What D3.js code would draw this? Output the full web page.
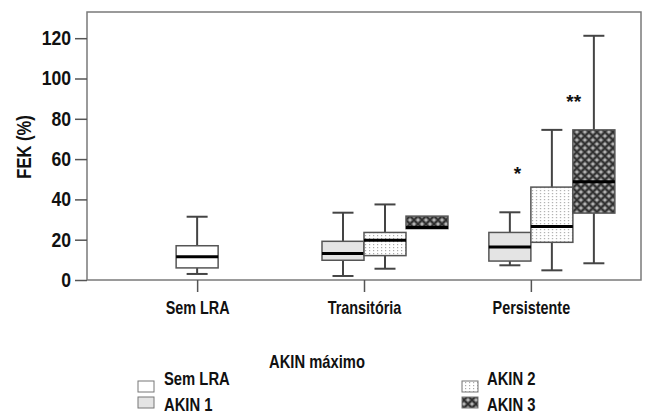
<!DOCTYPE html>
<html>
<head>
<meta charset="utf-8">
<script src="https://cdn.jsdelivr.net/npm/d3@7"></script>
<style>
  body { margin:0; background:#fff; }
  svg text { font-family:'Liberation Sans',Arial,sans-serif; font-weight:bold; fill:#111; }
</style>
</head>
<body>
<div id="canvas"></div>
<script>
// values
var categories = ['Sem LRA','Transitória','Persistente'];
var groups = ['Sem LRA','AKIN 1','AKIN 2','AKIN 3'];
var boxCategory = ['Sem LRA','Transitória','Transitória','Transitória','Persistente','Persistente','Persistente'];
var boxGroup = ['Sem LRA','AKIN 1','AKIN 2','AKIN 3','AKIN 1','AKIN 2','AKIN 3'];
var whiskerMin = [3.0, 2.0, 5.6, 25.5, 7.3, 4.8, 8.3];
var q1 = [6.0, 9.8, 12.1, 25.5, 9.4, 18.7, 33.2];
var median = [11.6, 13.2, 19.7, 26.0, 16.4, 26.6, 48.8];
var q3 = [17.0, 19.2, 23.6, 31.7, 23.6, 46.1, 74.5];
var whiskerMax = [31.4, 33.4, 37.5, 31.7, 33.6, 74.5, 121.2];
var yTicks = [0,20,40,60,80,100,120];
var annotText = ['*','**'];
var annotGroup = ['AKIN 1','AKIN 2'];
var annotValue = [56, 92];

var W = 645, H = 416;
var m = {t:12, r:4, b:136, l:87};
var w = W - m.l - m.r, h = H - m.t - m.b;

var svg = d3.select('#canvas').append('svg')
    .attr('width', W).attr('height', H);

// narrow look: squeeze text horizontally
function condense(sel, k){
    sel.each(function(){
        var t = d3.select(this);
        var x = +t.attr('x') || 0;
        var tr = t.attr('transform') || '';
        t.attr('x', x/k).attr('transform', tr + ' scale(' + k + ',1)');
    });
}

// patterns for AKIN 2 and AKIN 3
var defs = svg.append('defs');
var dots = defs.append('pattern').attr('id','dots')
    .attr('patternUnits','userSpaceOnUse').attr('width',4).attr('height',3);
dots.append('rect').attr('width',4).attr('height',3).attr('fill','#fff');
dots.append('rect').attr('x',1).attr('y',1).attr('width',1.2).attr('height',1.2).attr('fill','#aaa');

var cross = defs.append('pattern').attr('id','cross')
    .attr('patternUnits','userSpaceOnUse').attr('width',8).attr('height',8);
cross.append('rect').attr('width',8).attr('height',8).attr('fill','#7e7e7e');
cross.append('path').attr('d','M0,0L8,8M8,0L0,8').attr('stroke','#2e2e2e').attr('stroke-width',1.6);
[[4,0],[0,4],[8,4],[4,8]].forEach(function(p){
    cross.append('circle').attr('cx',p[0]).attr('cy',p[1]).attr('r',1.1).attr('fill','#c0c0c0');
});

var fills = {'Sem LRA':'#fff','AKIN 1':'#e4e4e4','AKIN 2':'url(#dots)','AKIN 3':'url(#cross)'};

var plot = svg.append('g').attr('transform','translate('+m.l+','+m.t+')');

var scaleX = d3.scalePoint().domain(categories).range([0,w]).padding(0.66);
var slot = 42;
var scaleG = d3.scaleBand().domain(groups).range([-2*slot, 2*slot]);
var scaleY = d3.scaleLinear().domain([0,133]).range([h,0]);

// frame
plot.append('rect').attr('width',w).attr('height',h)
    .attr('fill','none').attr('stroke','#7a7a7a').attr('stroke-width',1.5);

// axes
var axisY = d3.axisLeft(scaleY).tickValues(yTicks).tickSize(12).tickPadding(4);
var gy = plot.append('g').attr('class','axis axis-y').call(axisY);
var axisX = d3.axisBottom(scaleX).tickSize(12).tickPadding(9);
var gx = plot.append('g').attr('class','axis axis-x').attr('transform','translate(0,'+h+')').call(axisX);
[gy, gx].forEach(function(g){
    g.select('.domain').remove();
    g.selectAll('line').attr('stroke','#555').attr('stroke-width',1.5);
});
gy.selectAll('text').style('font-size','20px').attr('fill','#111').call(condense, 0.88);
gx.selectAll('text').style('font-size','18px').attr('fill','#111').call(condense, 0.8);

// boxes
var rows = boxGroup.map(function(g,i){
    return {cat:boxCategory[i], group:g, lo:whiskerMin[i], q1:q1[i], med:median[i], q3:q3[i], hi:whiskerMax[i]};
});
function boxLeft(d){
    var n = boxCategory.filter(function(c){return c===d.cat}).length;
    if(n===1) return scaleX(d.cat) - slot/2;
    return scaleX(d.cat) + scaleG(d.group);
}
var bw = scaleG.bandwidth();

var nodes = plot.selectAll('.box').data(rows).enter()
    .append('g').attr('class','box')
    .attr('transform',function(d){return 'translate('+boxLeft(d)+',0)'});

nodes.append('line').attr('x1',bw/2).attr('x2',bw/2)
    .attr('y1',function(d){return scaleY(d.hi)}).attr('y2',function(d){return scaleY(d.lo)})
    .attr('stroke','#444').attr('stroke-width',2);
nodes.filter(function(d){return d.hi>d.q3}).append('line')
    .attr('x1',bw/4).attr('x2',bw*3/4)
    .attr('y1',function(d){return scaleY(d.hi)}).attr('y2',function(d){return scaleY(d.hi)})
    .attr('stroke','#444').attr('stroke-width',2);
nodes.filter(function(d){return d.lo<d.q1}).append('line')
    .attr('x1',bw/4).attr('x2',bw*3/4)
    .attr('y1',function(d){return scaleY(d.lo)}).attr('y2',function(d){return scaleY(d.lo)})
    .attr('stroke','#444').attr('stroke-width',2);
nodes.append('rect').attr('x',0).attr('width',bw)
    .attr('y',function(d){return scaleY(d.q3)})
    .attr('height',function(d){return scaleY(d.q1)-scaleY(d.q3)})
    .attr('fill',function(d){return fills[d.group]})
    .attr('stroke','#555').attr('stroke-width',1.5);
nodes.append('line').attr('x1',0).attr('x2',bw)
    .attr('y1',function(d){return scaleY(d.med)}).attr('y2',function(d){return scaleY(d.med)})
    .attr('stroke','#000').attr('stroke-width',3);

// significance marks
plot.selectAll('.mark').data(annotText).enter()
    .append('text').attr('class','mark')
    .attr('x',function(d,i){return scaleX('Persistente') + scaleG(annotGroup[i]) + bw*(i===0 ? 0.68 : 1.02)})
    .attr('y',function(d,i){return scaleY(annotValue[i])})
    .attr('dy','0.7em')
    .attr('text-anchor','middle')
    .style('font-size','19px')
    .text(function(d){return d});

// y title
svg.append('text')
    .attr('transform','translate(31,147) rotate(-90)')
    .attr('text-anchor','middle')
    .style('font-size','19.5px')
    .text('FEK (%)')
    .call(condense, 0.85);

// legend
svg.append('text').attr('x',317).attr('y',368).attr('text-anchor','middle')
    .style('font-size','18px').text('AKIN máximo')
    .call(condense, 0.82);
var legX = [138, 462], legTextX = [164, 487], legSwY = [381, 397], legTextY = [385, 411];
var leg = svg.selectAll('.leg').data(groups).enter()
    .append('g').attr('class','leg');
leg.append('rect')
    .attr('x',function(d,i){return legX[i<2 ? 0 : 1]})
    .attr('y',function(d,i){return legSwY[i%2]})
    .attr('width',16).attr('height',11)
    .attr('fill',function(d){return fills[d]})
    .attr('stroke','#777').attr('stroke-width',1);
leg.append('text')
    .attr('x',function(d,i){return legTextX[i<2 ? 0 : 1]})
    .attr('y',function(d,i){return legTextY[i%2]})
    .style('font-size','18.5px')
    .text(function(d){return d})
    .call(condense, 0.8);
</script>
</body>
</html>
